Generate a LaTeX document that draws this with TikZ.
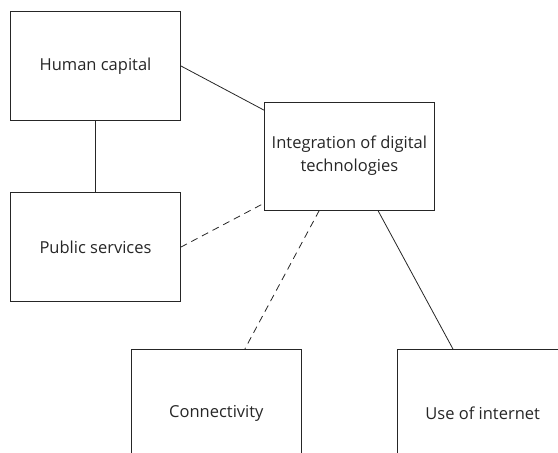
\documentclass[tikz,border=0pt]{standalone}
\usepackage{fontspec}
\setmainfont{Open Sans}
\usetikzlibrary{calc}
\begin{document}
\begin{tikzpicture}[x=1bp,y=-1bp,
  box/.style={draw=black!85,line width=0.8bp,rectangle,inner sep=0pt,align=center,
    font=\fontsize{16.5bp}{23bp}\selectfont,text=black!85},
  link/.style={draw=black!85,line width=0.8bp},
  dlink/.style={link,dash pattern=on 7bp off 5bp}]
\useasboundingbox (0,0) rectangle (558,453);
\clip (0,0) rectangle (558,453);
\node[box,minimum width=169.6bp,minimum height=108.3bp] (hc) at (95.5,65.85) {Human capital};
\node[box,minimum width=169.6bp,minimum height=109bp] (ps) at (95.5,247.2) {Public services};
\node[box,minimum width=169.3bp,minimum height=107.7bp] (int) at (349.35,156.15) {Integration of digital\\technologies};
\node[box,minimum width=169.3bp,minimum height=127.4bp] (con) at (216.35,413) {Connectivity};
\node[box,minimum width=170bp,minimum height=127.4bp] (use) at (482.7,413) {Use of internet};
\draw[link] (hc.south) -- (ps.north);
\draw[link] (hc.east) -- ($(int.north west)+(0,8.4)$);
\draw[dlink] (ps.east) -- ($(int.south west)+(0,-7.3)$);
\draw[dlink] ($(int.south west)+(55,0)$) -- ($(con.north west)+(113.6,0)$);
\draw[link] ($(int.south west)+(113.6,0)$) -- ($(use.north west)+(55.6,0)$);
\end{tikzpicture}
\end{document}
